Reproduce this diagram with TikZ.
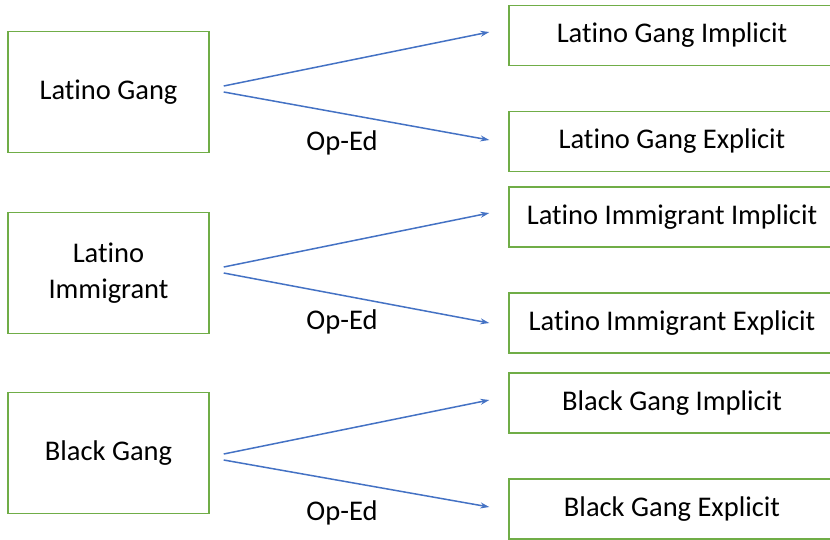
\documentclass[tikz,border=0pt]{standalone}
\usepackage{fontspec}
\setmainfont{Carlito}[Ligatures=NoCommon]
\usetikzlibrary{calc,arrows.meta}
\definecolor{boxgreen}{RGB}{112,173,71}
\definecolor{arrowblue}{RGB}{68,114,196}
\tikzset{
  srcbox/.style={draw=boxgreen, line width=1.4pt, minimum width=201pt, minimum height=121pt, inner sep=0pt, align=center, font=\fontsize{28.5}{36}\selectfont},
  tgtbox/.style={draw=boxgreen, line width=1.4pt, minimum width=326pt, minimum height=60pt, inner sep=0pt, font=\fontsize{28.5}{36}\selectfont},
  lbl/.style={inner sep=0pt, font=\fontsize{28.5}{36}\selectfont},
  conn/.style={draw=arrowblue, line width=1.5pt, -{Stealth[length=9pt,width=6pt]}}
}
\begin{document}
\begin{tikzpicture}[x=1pt,y=-1pt]
\useasboundingbox (0,0) rectangle (830,539);
\clip (0,0) rectangle (830,539);
% sources
\node[srcbox] (L1) at (108.5,92) {Latino Gang};
\node[srcbox] (L2) at (108.5,273) {Latino\\Immigrant};
\node[srcbox] (L3) at (108.5,453) {Black Gang};
% targets
\node[tgtbox] (T1) at (672,35.5) {Latino Gang Implicit};
\node[tgtbox] (T2) at (672,141.5) {Latino Gang Explicit};
\node[tgtbox] (T3) at (672,217) {Latino Immigrant Implicit};
\node[tgtbox] (T4) at (672,323) {Latino Immigrant Explicit};
\node[tgtbox] (T5) at (672,403) {Black Gang Implicit};
\node[tgtbox] (T6) at (672,509) {Black Gang Explicit};
% connector endpoints
\coordinate (s1a) at ($(L1.east)+(14,-6)$);
\coordinate (s1b) at ($(L1.east)+(14,0)$);
\coordinate (s2a) at ($(L2.east)+(14,-6)$);
\coordinate (s2b) at ($(L2.east)+(14,0)$);
\coordinate (s3a) at ($(L3.east)+(14,1)$);
\coordinate (s3b) at ($(L3.east)+(14,7)$);
\coordinate (e1) at ($(T1.west)+(-19,-3.5)$);
\coordinate (e2) at ($(T2.west)+(-19,-1.5)$);
\coordinate (e3) at ($(T3.west)+(-19,-4)$);
\coordinate (e4) at ($(T4.west)+(-19,0)$);
\coordinate (e5) at ($(T5.west)+(-19,-3)$);
\coordinate (e6) at ($(T6.west)+(-19,-2)$);
\draw[conn] (s1a) -- (e1);
\draw[conn] (s1b) -- (e2);
\draw[conn] (s2a) -- (e3);
\draw[conn] (s2b) -- (e4);
\draw[conn] (s3a) -- (e5);
\draw[conn] (s3b) -- (e6);
% labels
\node[lbl] (o1) at (342,143) {Op-Ed};
\node[lbl] (o2) at (342,322) {Op-Ed};
\node[lbl] (o3) at (342,513) {Op-Ed};
\end{tikzpicture}
\end{document}
